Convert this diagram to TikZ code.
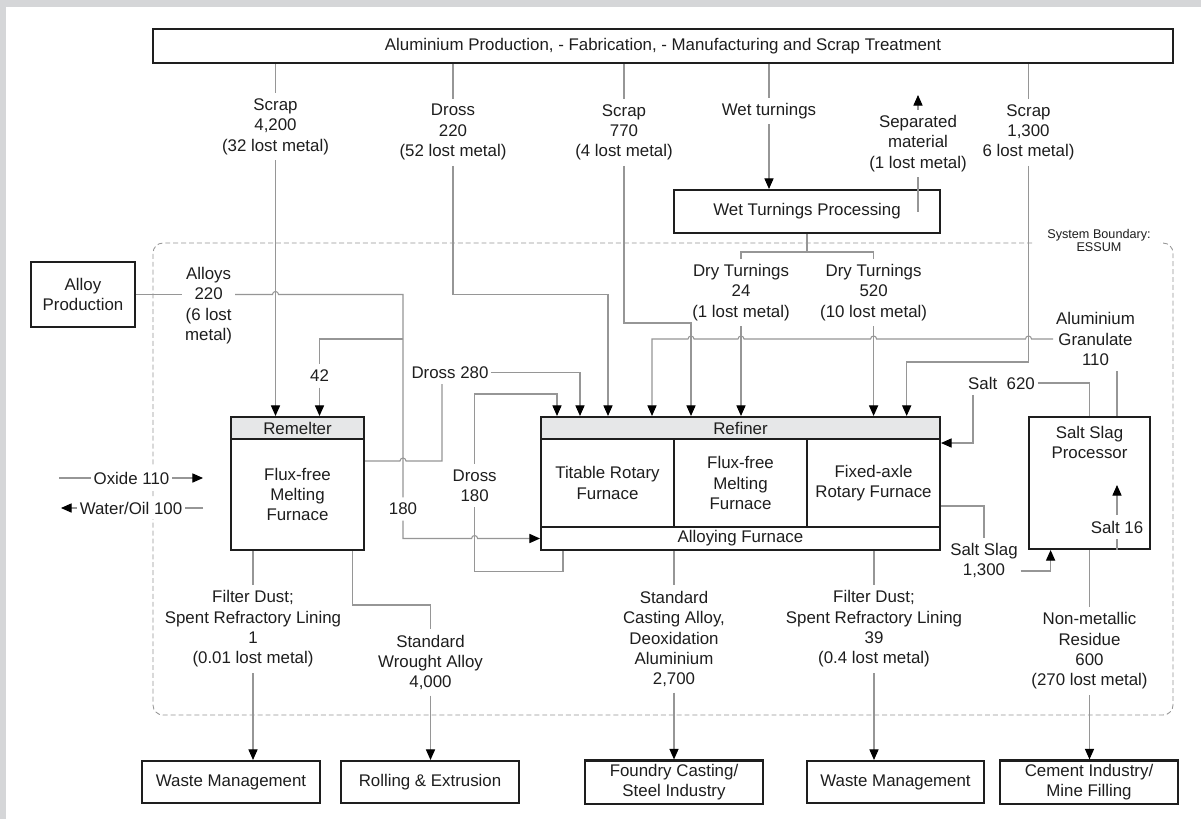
\documentclass[tikz,border=0pt]{standalone}
\usepackage{fontspec}
\setmainfont{Liberation Sans}
\usepackage{xcolor}
\usepackage{tikz}
\usetikzlibrary{arrows.meta}

\definecolor{framegray}{RGB}{213,214,216}
\definecolor{linegray}{RGB}{150,150,150}
\definecolor{hdrgray}{RGB}{230,231,232}
\definecolor{inkgray}{RGB}{30,30,30}

\begin{document}
\begin{tikzpicture}[x=0.02cm, y=-0.02cm,
    every node/.style={font=\fontsize{9.6}{11.6}\selectfont, text=inkgray},
    box/.style={draw=inkgray, line width=1.2pt, fill=white, align=center, inner sep=2pt},
    hdr/.style={box, fill=hdrgray},
    lbl/.style={fill=white, align=center, inner xsep=1.5pt, inner ysep=3pt},
    flow/.style={draw=linegray, line width=0.6pt},
    flowto/.style={flow, -{Triangle[length=6pt, width=5.2pt, color=black]}},
    bound/.style={draw=linegray, line width=0.5pt, dash pattern=on 2.8pt off 1.7pt, rounded corners=0.2cm}]

    % Frame
    \useasboundingbox (0,0) rectangle (1201,819);
    \fill[framegray] (0,0) rectangle (1201,819);
    \fill[white] (6,7) rectangle (1201,819);

    % System boundary
    \draw[bound] (1032,243) -- (153,243) -- (153,715) -- (1173,715) -- (1173,243) -- (1160,243);
    \node[align=center, font=\fontsize{7.2}{7.6}\selectfont] (bnd) at (1099,240.5) {System Boundary:\\ESSUM};

    % Boxes
    \node[box, minimum width=20.4cm, minimum height=0.68cm] (top) at (663,46) {Aluminium Production, - Fabrication, - Manufacturing and Scrap Treatment};
    \node[box, minimum width=5.32cm, minimum height=0.86cm] (wtp) at (807,211.5) {Wet Turnings Processing};
    \node[box, minimum width=2.08cm, minimum height=1.3cm] (alloyprod) at (83,294.5) {Alloy\\Production};

    % Remelter
    \node[hdr, minimum width=2.66cm, minimum height=0.44cm] (rhead) at (297.5,428) {Remelter};
    \node[box, minimum width=2.66cm, minimum height=2.22cm] (rbody) at (297.5,494.5) {Flux-free\\Melting\\Furnace};

    % Refiner
    \node[hdr, minimum width=7.98cm, minimum height=0.44cm] (fhead) at (740.5,428) {Refiner};
    \node[box, minimum width=2.66cm, minimum height=1.76cm] (fcol1) at (607.5,483) {Titable Rotary\\Furnace};
    \node[box, minimum width=2.66cm, minimum height=1.76cm] (fcol2) at (740.5,483) {Flux-free\\Melting\\Furnace};
    \node[box, minimum width=2.66cm, minimum height=1.76cm] (fcol3) at (873.5,483) {Fixed-axle\\Rotary Furnace};
    \node[box, minimum width=7.98cm, minimum height=0.46cm] (falloy) at (740.5,538.5) {Alloying Furnace};

    % Salt slag processor
    \node[box, minimum width=2.42cm, minimum height=2.64cm] (ssp) at (1089.5,483) {};
    \node[align=center] (sspname) at (1089.5,442.5) {Salt Slag\\Processor};

    % Sinks
    \node[box, minimum width=3.56cm, minimum height=0.84cm] (wm1) at (231,782) {Waste Management};
    \node[box, minimum width=3.56cm, minimum height=0.84cm] (roll) at (430,782) {Rolling \& Extrusion};
    \node[box, minimum width=3.56cm, minimum height=0.84cm] (foundry) at (674,782) {Foundry Casting/\\Steel Industry};
    \node[box, minimum width=3.54cm, minimum height=0.84cm] (wm2) at (895.5,782) {Waste Management};
    \node[box, minimum width=3.56cm, minimum height=0.84cm] (cement) at (1089,782) {Cement Industry/\\Mine Filling};

    % Flow labels
    \node[lbl] (lScrapA) at (275.5,126.5) {Scrap\\4,200\\(32 lost metal)};
    \node[lbl] (lDrossA) at (453,132.3) {Dross\\220\\(52 lost metal)};
    \node[lbl] (lScrapB) at (624,132.3) {Scrap\\770\\(4 lost metal)};
    \node[lbl] (lWet) at (769,111) {Wet turnings};
    \node[lbl] (lSep) at (918,143.5) {Separated\\material\\(1 lost metal)};
    \node[lbl] (lScrapC) at (1028.5,132.3) {Scrap\\1,300\\6 lost metal)};
    \node[lbl] (lDry1) at (741,292.5) {Dry Turnings\\24\\(1 lost metal)};
    \node[lbl] (lDry2) at (873.6,292.5) {Dry Turnings\\520\\(10 lost metal)};
    \node[lbl] (lAlloys) at (208.6,305.5) {Alloys\\220\\(6 lost\\metal)};
    \node[lbl] (l42) at (319.5,376) {42};
    \node[lbl] (lDross280) at (450,372.5) {Dross 280};
    \node[lbl] (lGran) at (1095.5,339) {Aluminium\\Granulate\\110};
    \node[lbl] (lSalt620) at (1001.5,383) {Salt\ \ 620};
    \node[lbl] (lDross180) at (474.6,485.5) {Dross\\180};
    \node[lbl] (l180) at (403,509) {180};
    \node[lbl] (lOxide) at (131.5,478) {Oxide 110};
    \node[lbl] (lWater) at (131,508) {Water/Oil 100};
    \node[lbl] (lSalt16) at (1117,527) {Salt 16};
    \node[lbl] (lSlag) at (984,560.5) {Salt Slag\\1,300};
    \node[lbl] (lDust1) at (253,629) {Filter Dust;\\Spent Refractory Lining\\1\\(0.01 lost metal)};
    \node[lbl] (lWrought) at (430.5,662.5) {Standard\\Wrought Alloy\\4,000};
    \node[lbl] (lCast) at (674,639) {Standard\\Casting Alloy,\\Deoxidation\\Aluminium\\2,700};
    \node[lbl] (lDust2) at (874,629) {Filter Dust;\\Spent Refractory Lining\\39\\(0.4 lost metal)};
    \node[lbl] (lResidue) at (1089.5,651) {Non-metallic\\Residue\\600\\(270 lost metal)};

    % Bend points and free ends
    \coordinate (bDrossA) at (608,294.5);
    \coordinate (bScrapB) at (691,323);
    \coordinate (bScrapC) at (906.7,362);
    \coordinate (sepTip) at (918,95);
    \coordinate (wtpSplit) at (807,252);
    \coordinate (bGran) at (652,339);
    \coordinate (bAlloy) at (403,294.5);
    \coordinate (b42) at (403,339);
    \coordinate (b180) at (403,538.5);
    \coordinate (bRem) at (442,461);
    \coordinate (bD280) at (580,372.5);
    \coordinate (bLoopA) at (563,571.5);
    \coordinate (bLoopB) at (474.6,571.5);
    \coordinate (bLoopC) at (474.6,394);
    \coordinate (bLoopD) at (557,394);
    \coordinate (bSalt) at (973,443);
    \coordinate (bSlag) at (984,506);
    \coordinate (bSlag2) at (1050.6,571);
    \coordinate (saltTip) at (1117,485);
    \coordinate (bWro) at (352.5,605);
    \coordinate (oxL) at (59,478);
    \coordinate (oxR) at (203,478);
    \coordinate (waL) at (61,508);
    \coordinate (waR) at (203,508);

    % From production
    \draw[flow] (lScrapA |- top.south) -- (lScrapA);
    \draw[flowto] (lScrapA) -- (lScrapA |- rhead.north);
    \draw[flow] (lDrossA |- top.south) -- (lDrossA);
    \draw[flowto] (lDrossA) |- (bDrossA) -- (bDrossA |- fhead.north);
    \draw[flow] (lScrapB |- top.south) -- (lScrapB);
    \draw[flowto] (lScrapB) |- (bScrapB) -- (bScrapB |- fhead.north);
    \draw[flow] (lWet |- top.south) -- (lWet);
    \draw[flowto] (lWet) -- (lWet |- wtp.north);
    \draw[flow] (lScrapC |- top.south) -- (lScrapC);
    \draw[flowto] (lScrapC) |- (bScrapC) -- (bScrapC |- fhead.north);

    % Wet turnings processing
    \draw[flow] (lSep |- wtp.center) -- (lSep);
    \draw[flowto] (lSep) -- (sepTip);
    \draw[flow] (wtp.south) -- (wtpSplit);
    \draw[flow] (lDry1) |- (wtpSplit) -| (lDry2);
    \draw[flowto] (lDry1) -- (lDry1 |- fhead.north);
    \draw[flowto] (lDry2) -- (lDry2 |- fhead.north);

    % Aluminium granulate back to refiner
    \draw[flow] (ssp.north -| saltTip) -- (lGran.south -| saltTip);
    \draw[flowto] (lGran.west) -- (1031.5,339) arc[start angle=0, end angle=180, radius=0.06cm]
        -- (876.6,339) arc[start angle=0, end angle=180, radius=0.06cm]
        -- (744,339) arc[start angle=0, end angle=180, radius=0.06cm]
        -- (694,339) arc[start angle=0, end angle=180, radius=0.06cm]
        -- (bGran) -- (bGran |- fhead.north);

    % Alloys
    \draw[flow] (alloyprod.east) -- (lAlloys.west |- alloyprod.east);
    \draw[flow] (lAlloys.east |- alloyprod.east) -- (272.5,294.5) arc[start angle=180, end angle=0, radius=0.06cm]
        -- (bAlloy) -- (l180);
    \draw[flow] (b42) -| (l42);
    \draw[flowto] (l42) -- (l42 |- rhead.north);
    \draw[flowto] (l180) -- (b180) -- (471.6,538.5) arc[start angle=180, end angle=0, radius=0.06cm]
        -- (falloy.west);

    % Dross
    \draw[flow] (bRem -| rbody.east) -- (400,461) arc[start angle=180, end angle=0, radius=0.06cm]
        -- (bRem) -- (bRem |- lDross280.south);
    \draw[flowto] (lDross280.east) -- (bD280) -- (bD280 |- fhead.north);
    \draw[flow] (falloy.south -| bLoopA) -- (bLoopA) -- (bLoopB) -- (lDross180);
    \draw[flowto] (lDross180) -- (bLoopC) -- (bLoopD) -- (bLoopD |- fhead.north);

    % Oxide and water
    \draw[flow] (oxL) -- (lOxide);
    \draw[flowto] (lOxide) -- (oxR);
    \draw[flow] (waR) -- (lWater);
    \draw[flowto] (lWater) -- (waL);

    % Salt and salt slag
    \draw[flow] (lSalt620.east) -| (ssp.north);
    \draw[flowto] (lSalt620.south -| bSalt) -- (bSalt) -- (bSalt -| fcol3.east);
    \draw[flow] (bSlag -| fcol3.east) -- (bSlag) -- (lSlag);
    \draw[flowto] (lSlag.east |- bSlag2) -- (bSlag2) -- (bSlag2 |- ssp.south);
    \draw[flow] (ssp.south -| lSalt16) -- (lSalt16);
    \draw[flowto] (lSalt16) -- (saltTip);

    % Outputs
    \draw[flow] (rbody.south -| lDust1) -- (lDust1);
    \draw[flowto] (lDust1) -- (lDust1 |- wm1.north);
    \draw[flow] (rbody.south -| bWro) -- (bWro) -| (lWrought);
    \draw[flowto] (lWrought) -- (lWrought |- roll.north);
    \draw[flow] (falloy.south -| lCast) -- (lCast);
    \draw[flowto] (lCast) -- (lCast |- foundry.north);
    \draw[flow] (falloy.south -| lDust2) -- (lDust2);
    \draw[flowto] (lDust2) -- (lDust2 |- wm2.north);
    \draw[flow] (ssp.south -| lResidue) -- (lResidue);
    \draw[flowto] (lResidue) -- (lResidue |- cement.north);
\end{tikzpicture}
\end{document}
